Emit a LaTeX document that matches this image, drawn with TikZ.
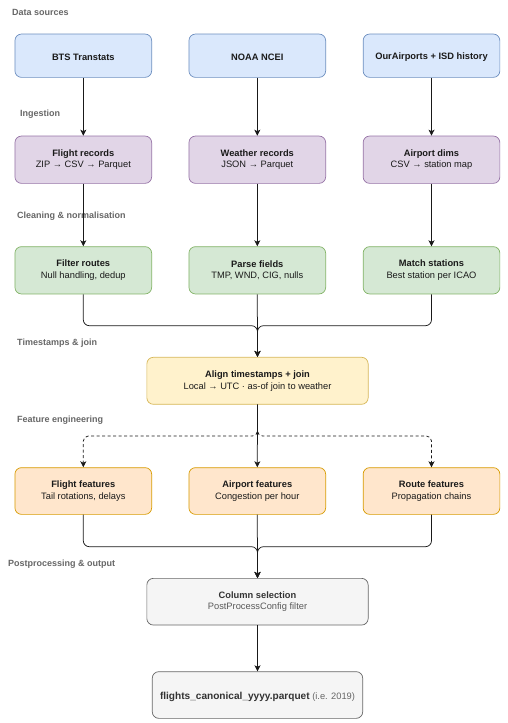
\documentclass[tikz,border=0pt]{standalone}
\usepackage{fontspec}
\setmainfont{Liberation Sans}
\usetikzlibrary{arrows.meta}
\definecolor{bluef}{HTML}{DAE8FC}\definecolor{blued}{HTML}{6C8EBF}
\definecolor{purf}{HTML}{E1D5E7}\definecolor{purd}{HTML}{9673A6}
\definecolor{grnf}{HTML}{D5E8D4}\definecolor{grnd}{HTML}{82B366}
\definecolor{yelf}{HTML}{FFF2CC}\definecolor{yeld}{HTML}{D6B656}
\definecolor{oraf}{HTML}{FFE6CC}\definecolor{orad}{HTML}{D79B00}
\definecolor{gryf}{HTML}{F5F5F5}\definecolor{gryd}{HTML}{666666}
\definecolor{sect}{HTML}{666666}
\definecolor{txt}{HTML}{1A1A1A}
\begin{document}
\begin{tikzpicture}[x=1pt,y=-1pt,
  box/.style={draw, line width=0.7pt, rounded corners=6.5pt, minimum width=136.7pt, align=center,
    inner sep=0pt, font=\fontsize{9.3}{11.7}\selectfont, text=txt,
    execute at begin node={\rule{0pt}{10.2pt}}},
  bluebox/.style={box, fill=bluef, draw=blued, minimum height=43.3pt},
  purbox/.style={box, fill=purf, draw=purd, minimum height=47.3pt},
  grnbox/.style={box, fill=grnf, draw=grnd, minimum height=47.3pt},
  yelbox/.style={box, fill=yelf, draw=yeld, minimum height=47pt, minimum width=221.3pt},
  orabox/.style={box, fill=oraf, draw=orad, minimum height=46.7pt},
  grybox/.style={box, fill=gryf, draw=gryd, minimum height=46.7pt, text=black!80},
  sec/.style={anchor=west, inner sep=0pt, text=sect, font=\fontsize{9}{11}\selectfont\bfseries},
  arr/.style={draw=black!90, line width=0.75pt, -{Stealth[length=6pt,width=6pt,inset=1.5pt]}},
  mrg/.style={arr, rounded corners=6pt},
  dsh/.style={arr, dashed, dash pattern=on 3pt off 2.5pt, rounded corners=5pt}
]
\useasboundingbox (0,0) rectangle (508,723);
% section labels
\node[sec] (s1) at (12,12.5) {Data sources};
\node[sec] (s2) at (20,114) {Ingestion};
\node[sec] (s3) at (17,216) {Cleaning \& normalisation};
\node[sec] (s4) at (17,343) {Timestamps \& join};
\node[sec] (s5) at (17,420) {Feature engineering};
\node[sec] (s6) at (8,564) {Postprocessing \& output};
% row 1
\node[bluebox] (bts) at (83.3,55.7) {\bfseries BTS Transtats};
\node[bluebox] (noaa) at (257.3,55.7) {\bfseries NOAA NCEI};
\node[bluebox] (oa) at (431.5,55.7) {\bfseries OurAirports + ISD history};
% row 2
\node[purbox] (fr) at (83.3,159.7) {\textbf{Flight records}\\ZIP → CSV → Parquet};
\node[purbox] (wr) at (257.3,159.7) {\textbf{Weather records}\\JSON → Parquet};
\node[purbox] (ad) at (431.5,159.7) {\textbf{Airport dims}\\CSV → station map};
% row 3
\node[grnbox] (fl) at (83.3,270.3) {\textbf{Filter routes}\\Null handling, dedup};
\node[grnbox] (pf) at (257.3,270.3) {\textbf{Parse fields}\\TMP, WND, CIG, nulls};
\node[grnbox] (ms) at (431.5,270.3) {\textbf{Match stations}\\Best station per ICAO};
% align
\node[yelbox] (al) at (257.5,380.8) {\textbf{Align timestamps + join}\\Local → UTC · as-of join to weather};
% features
\node[orabox] (ff) at (83.3,491) {\textbf{Flight features}\\Tail rotations, delays};
\node[orabox] (af) at (257.3,491) {\textbf{Airport features}\\Congestion per hour};
\node[orabox] (rf) at (431.5,491) {\textbf{Route features}\\Propagation chains};
% column selection
\node[grybox, minimum width=221.3pt] (cs) at (257.5,601.7) {\textbf{Column selection}\\{\color{black!65}PostProcessConfig filter}};
\node[grybox, minimum width=210.4pt] (out) at (257.5,695) {{\fontsize{10.1}{12}\selectfont\bfseries flights\_canonical\_yyyy.parquet} {\fontsize{9.3}{11}\selectfont\color{black!60}(i.e. 2019)}};
% coordinates
\coordinate (j1) at (257.5,325.7);
\coordinate (j2) at (257.5,436);
\coordinate (j3) at (257.5,546.7);
% edges
\draw[arr] (bts) -- (fr);
\draw[arr] (noaa) -- (wr);
\draw[arr] (oa) -- (ad);
\draw[arr] (fr) -- (fl);
\draw[arr] (wr) -- (pf);
\draw[arr] (ad) -- (ms);
\draw[mrg] (fl.south) |- (j1) -- (al.north);
\draw[mrg] (ms.south) |- (j1) -- (al.north);
\draw[arr] (pf.south) -- (al.north);
\draw[dsh] (al.south) -- (j2) -| (ff.north);
\draw[dsh] (al.south) -- (j2) -| (rf.north);
\draw[arr] (al.south) -- (af.north);
\draw[mrg] (ff.south) |- (j3) -- (cs.north);
\draw[mrg] (rf.south) |- (j3) -- (cs.north);
\draw[arr] (af.south) -- (cs.north);
\draw[arr] (cs) -- (out);
\end{tikzpicture}
\end{document}
